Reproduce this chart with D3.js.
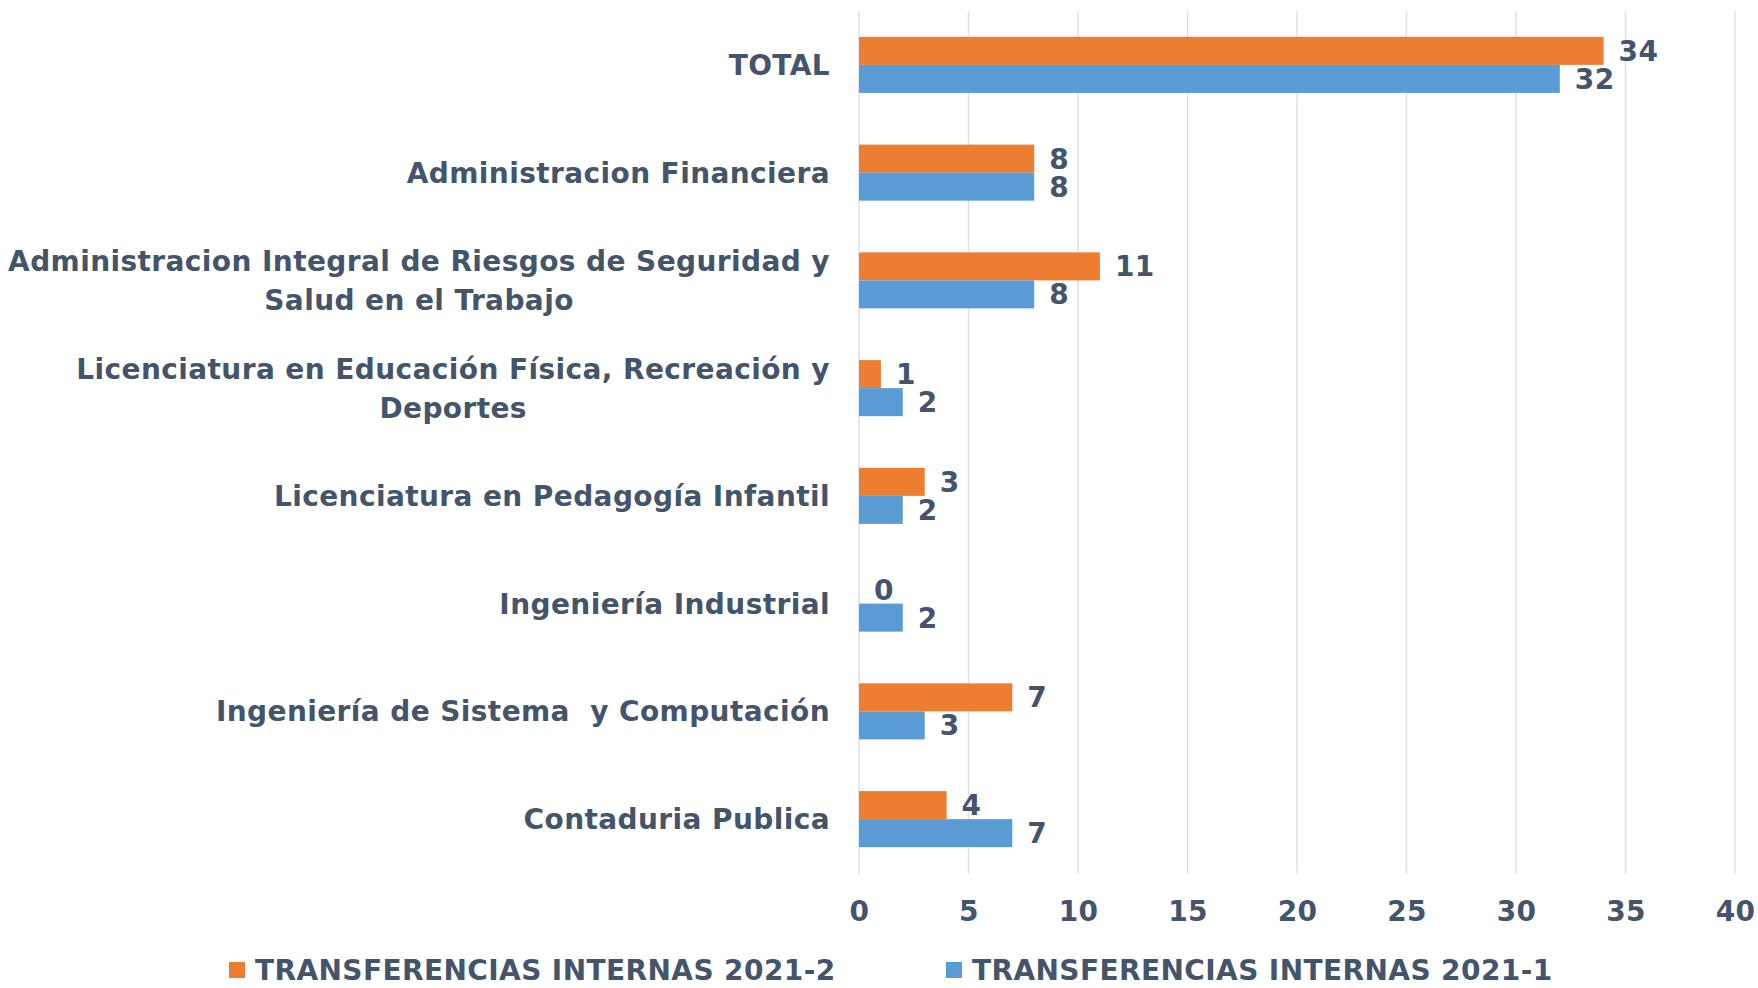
<!DOCTYPE html>
<html>
<head>
<meta charset="utf-8">
<script src="https://cdn.jsdelivr.net/npm/d3@7"></script>
<style>
  body { margin: 0; background: #fff; }
  svg text { font-family: "DejaVu Sans", sans-serif; font-weight: bold; fill: #44546A; white-space: pre; letter-spacing: 0.4px; }
</style>
</head>
<body>
<div id="chart"></div>
<script>
// values
var categories = [
  "TOTAL",
  "Administracion Financiera",
  "Administracion Integral de Riesgos de Seguridad y Salud en el Trabajo",
  "Licenciatura en Educación Física, Recreación y Deportes",
  "Licenciatura en Pedagogía Infantil",
  "Ingeniería Industrial",
  "Ingeniería de Sistema  y Computación",
  "Contaduria Publica"
];
var seriesNames = ["TRANSFERENCIAS INTERNAS 2021-2", "TRANSFERENCIAS INTERNAS 2021-1"];
var values2021_2 = [34, 8, 11, 1, 3, 0, 7, 4];
var values2021_1 = [32, 8, 8, 2, 2, 2, 3, 7];
var xTicks = [0, 5, 10, 15, 20, 25, 30, 35, 40];
var colors = ["#ED7D31", "#5B9BD5"];

var W = 1758, H = 988, fs = 28;
var svg = d3.select("#chart").append("svg")
  .attr("width", W).attr("height", H);

var x = d3.scaleLinear().domain([0, 40]).range([859, 1735]);
var y0 = d3.scaleBand().domain(categories).range([11, 873])
  .paddingInner(0.48).paddingOuter(0.24);
var y1 = d3.scaleBand().domain(seriesNames).range([0, y0.bandwidth()]);

var rows = categories.map(function(c, i) {
  return {cat: c, vals: [values2021_2[i], values2021_1[i]]};
});

// gridlines
svg.append("g").selectAll("line")
  .data(xTicks)
  .enter().append("line")
  .attr("x1", function(d) { return x(d); })
  .attr("x2", function(d) { return x(d); })
  .attr("y1", 11).attr("y2", 874)
  .attr("stroke", "#DCE1E8").attr("stroke-width", 1.5);

// x axis labels
var xAxis = d3.axisBottom(x).tickValues(xTicks).tickSize(0).tickPadding(0);
var xg = svg.append("g").attr("transform", "translate(0,901)").call(xAxis);
xg.select(".domain").remove();
xg.selectAll("text").attr("font-size", fs).attr("dy", "0.71em")
  .style("font-family", "\"DejaVu Sans\", sans-serif").style("font-weight", "bold")
  .style("fill", "#44546A");

// bars
var groups = svg.append("g").selectAll("g")
  .data(rows)
  .enter().append("g")
  .attr("transform", function(d) { return "translate(0," + y0(d.cat) + ")"; });

groups.selectAll("rect")
  .data(function(d) { return d.vals.map(function(v, j) { return {v: v, s: seriesNames[j], j: j}; }); })
  .enter().append("rect")
  .attr("x", x(0))
  .attr("y", function(d) { return y1(d.s); })
  .attr("width", function(d) { return x(d.v) - x(0); })
  .attr("height", y1.bandwidth())
  .attr("fill", function(d) { return colors[d.j]; });

groups.selectAll("text.val")
  .data(function(d) { return d.vals.map(function(v, j) { return {v: v, s: seriesNames[j], j: j}; }); })
  .enter().append("text")
  .attr("class", "val")
  .attr("x", function(d) { return x(d.v) + 15; })
  .attr("y", function(d) { return y1(d.s) + y1.bandwidth() / 2; })
  .attr("dy", "0.36em")
  .attr("font-size", fs)
  .text(function(d) { return d.v; });

// category labels with wrapping
var labelRight = 830, maxW = 826, lineH = 39;
var labels = svg.append("g");
rows.forEach(function(r) {
  var t = labels.append("text").attr("text-anchor", "end").attr("font-size", fs);
  var words = r.cat.split(" ");
  var lines = [], cur = "";
  var probe = svg.append("text").attr("font-size", fs);
  words.forEach(function(w) {
    var test = cur === "" ? w : cur + " " + w;
    probe.text(test);
    if (probe.node().getComputedTextLength() > maxW && cur !== "") {
      lines.push(cur); cur = w;
    } else {
      cur = test;
    }
  });
  lines.push(cur);
  probe.remove();
  var cy = y0(r.cat) + y0.bandwidth() / 2;
  var startY = cy - (lines.length - 1) * lineH / 2;
  lines.forEach(function(l, k) {
    t.append("tspan")
      .attr("x", labelRight)
      .attr("y", startY + k * lineH)
      .attr("dy", "0.36em")
      .text(l);
  });
  // center the continuation lines under the first line
  if (lines.length > 1) {
    var first = t.select("tspan").node().getComputedTextLength();
    t.selectAll("tspan").each(function(d, k) {
      if (k > 0) {
        d3.select(this).attr("text-anchor", "middle").attr("x", labelRight - first / 2);
      }
    });
  }
});

// legend
var legendX = [229, 946];
var legend = svg.append("g").selectAll("g")
  .data(seriesNames)
  .enter().append("g")
  .attr("transform", function(d, i) { return "translate(" + legendX[i] + ",962)"; });
legend.append("rect")
  .attr("width", 16).attr("height", 16)
  .attr("fill", function(d, i) { return colors[i]; });
legend.append("text")
  .attr("x", 26).attr("y", 8).attr("dy", "0.36em")
  .attr("font-size", fs)
  .text(function(d) { return d; });
</script>
</body>
</html>
